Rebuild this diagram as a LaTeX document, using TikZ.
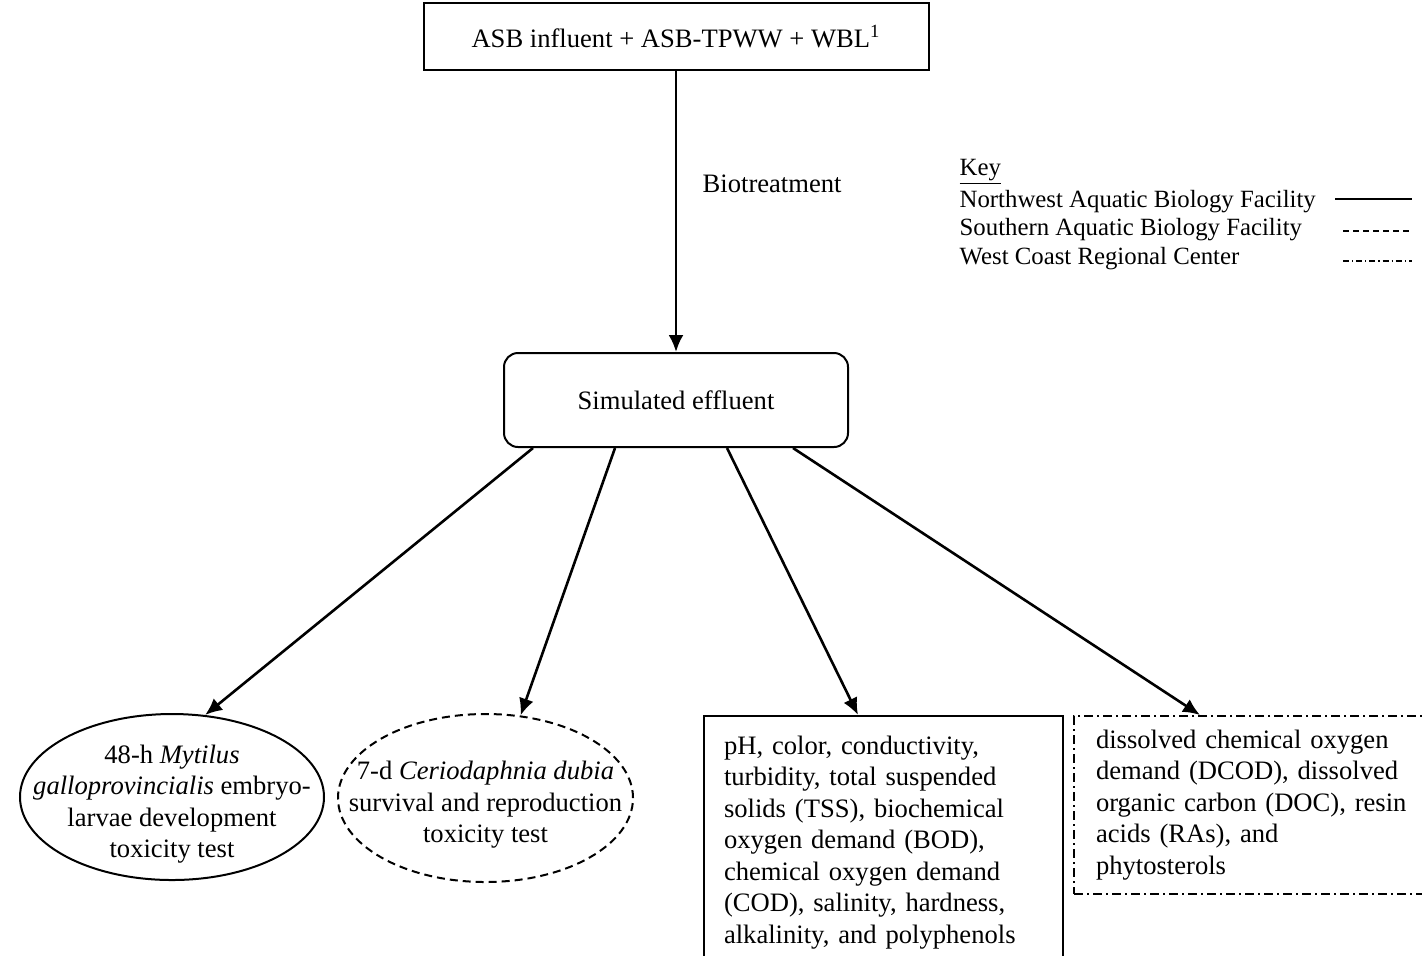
\documentclass[tikz,border=0pt]{standalone}
\usepackage{fontspec}
\setmainfont{Liberation Serif}
\usepackage{tikz}
\usetikzlibrary{shapes.geometric}
\usetikzlibrary{arrows.meta}

\begin{document}
\begin{tikzpicture}[x=0.5pt,y=-0.5pt,line width=1pt,
  every node/.style={font=\fontsize{13.3}{15.75}\selectfont},
  keytext/.style={anchor=west,font=\fontsize{12.4}{14.5}\selectfont},
  arr/.style={line width=1.3pt,-{Latex[length=8.5pt,width=7.5pt]}},
  dashdot/.style={dash pattern=on 4.5pt off 2pt on 1pt off 2pt}]
\clip (0,0) rectangle (1422,955);
\path (676,36.5) node(influent)[rectangle,draw,minimum width=252.5pt,minimum height=33.5pt]{ASB influent + ASB-TPWW + WBL\textsuperscript{1}}
(695,184) node(bio)[anchor=west]{Biotreatment}
(676,400) node(effluent)[rectangle,draw,rounded corners=7pt,minimum width=172pt,minimum height=47pt]{Simulated effluent}
(172,797) node(mytilus)[ellipse,draw,minimum width=152pt,minimum height=83pt,inner sep=0pt]{}
(172,804) node(mytilustxt)[align=center]{48-h \textit{Mytilus}\\ \textit{galloprovincialis} embryo-\\ larvae development\\ toxicity test}
(485.5,798) node(ceriodaphnia)[ellipse,draw,dash pattern=on 4pt off 2.5pt,minimum width=147.5pt,minimum height=84pt,inner sep=0pt]{}
(485.5,805) node(ceriotxt)[align=center]{7-d \textit{Ceriodaphnia dubia}\\ survival and reproduction\\ toxicity test}
(703,715) node(param)[anchor=north west,rectangle,draw,align=left,text width=159.5pt,inner xsep=10pt,inner ysep=10pt,minimum width=179.5pt]{pH, color, conductivity,\\ turbidity, total suspended\\ solids (TSS), biochemical\\ oxygen demand (BOD),\\ chemical oxygen demand\\ (COD), salinity, hardness,\\ alkalinity, and polyphenols}
(1073,715) node(dcod)[anchor=north west,rectangle,draw,dashdot,align=left,text width=161.5pt,inner xsep=11pt,minimum width=183.5pt,minimum height=89pt]{dissolved chemical oxygen\\ demand (DCOD), dissolved\\ organic carbon (DOC), resin\\ acids (RAs), and\\ phytosterols};
% key
\path (952,172) node(key)[keytext]{\underline{Key}}
(952,202) node(nwabf)[keytext]{Northwest Aquatic Biology Facility}
(952,230) node(sabf)[keytext]{Southern Aquatic Biology Facility}
(952,259) node(wcrc)[keytext]{West Coast Regional Center};
\draw[line width=0.7pt](1335,199)--(1412,199);
\draw[line width=0.7pt,dash pattern=on 3pt off 2pt](1343,231)--(1412,231);
\draw[line width=0.7pt,dash pattern=on 3pt off 1.5pt on 0.6pt off 1.5pt](1343,261)--(1412,261);

\draw[arr](influent.south)--(effluent.north);
\draw[arr]([xshift=-71.5pt]effluent.south)--(mytilus.68);
\draw[arr]([xshift=-30.5pt]effluent.south)--(ceriodaphnia.67);
\draw[arr]([xshift=25.5pt]effluent.south)--([xshift=77.5pt]param.north west);
\draw[arr]([xshift=58.5pt]effluent.south)--([xshift=63.5pt]dcod.north west);

\end{tikzpicture}
\end{document}
